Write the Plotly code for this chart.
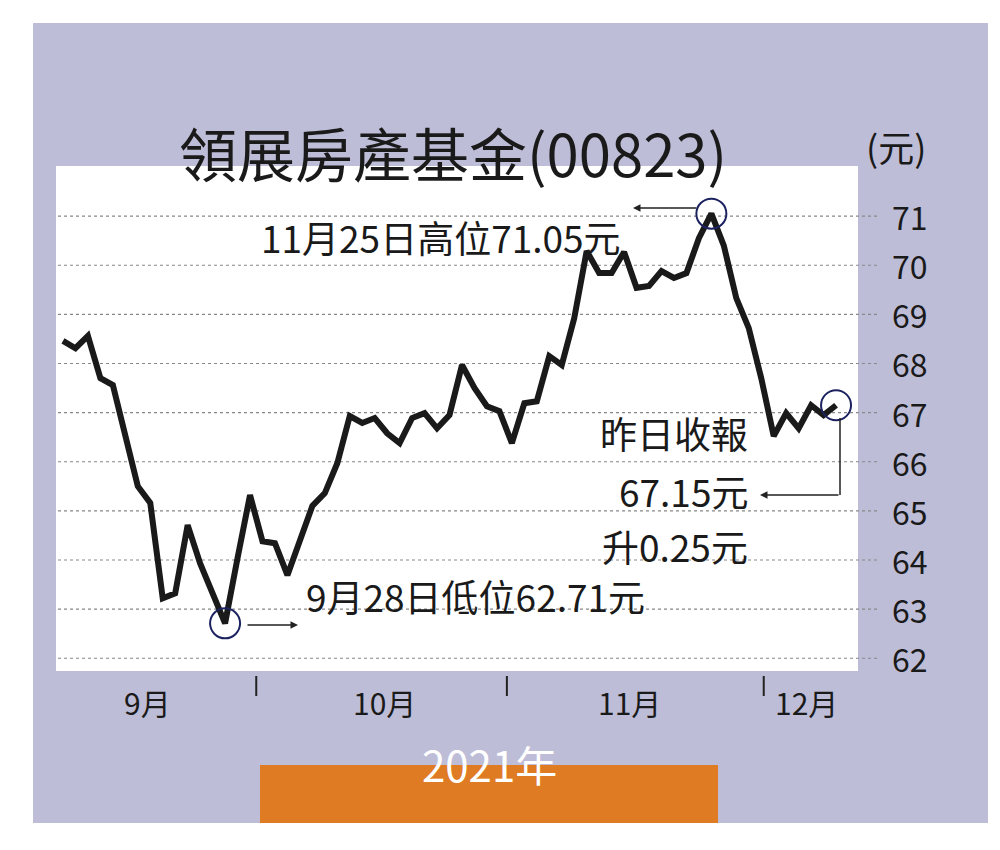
import plotly.graph_objects as go

prices = [68.46,68.31,68.56,67.70,67.56,66.48,65.50,65.16,63.22,63.32,64.71,63.93,63.32,62.71,
          64.04,65.32,64.38,64.34,63.69,64.44,65.10,65.36,65.97,66.93,66.79,66.89,66.58,66.38,66.89,66.99,
          66.68,66.95,67.97,67.50,67.13,67.03,66.38,67.19,67.23,68.15,67.97,68.92,70.29,69.84,69.84,70.27,
          69.54,69.58,69.88,69.74,69.84,70.55,71.05,
          70.40,69.33,68.72,67.70,66.52,66.99,66.68,67.15,66.95,67.15]
days = list(range(len(prices)))
month_labels = ["9月", "10月", "11月", "12月"]
month_label_pos = [6.8, 25.8, 45.4, 59.6]
month_bounds = [15.5, 35.6, 56.2]
y_ticks = list(range(62, 72))
low_i, high_i, last_i = 13, 52, len(prices) - 1

F = "Noto Sans CJK TC"
W, H = 1000, 850
def px(x): return x / W
def py(y): return 1 - y / H

XR = [-0.56, 63.76]
fig = go.Figure()
fig.add_trace(go.Scatter(x=days, y=prices, mode="lines",
                         line=dict(color="#1a1a1a", width=6), hoverinfo="skip"))
fig.add_trace(go.Scatter(x=[days[i] for i in (low_i, high_i, last_i)],
                         y=[prices[i] for i in (low_i, high_i, last_i)], mode="markers",
                         marker=dict(size=30, color="rgba(0,0,0,0)",
                                     line=dict(color="#1c2260", width=2)), hoverinfo="skip"))

shapes = [dict(type="rect", xref="paper", yref="paper", x0=px(25), x1=px(980), y0=py(815), y1=py(15),
               fillcolor="#bebdd7", line_width=0, layer="below"),
          dict(type="rect", xref="paper", yref="paper", x0=px(48), x1=px(850), y0=py(663), y1=py(158),
               fillcolor="white", line_width=0, layer="below"),
          dict(type="rect", xref="paper", yref="paper", x0=px(252), x1=px(710), y0=py(815), y1=py(757),
               fillcolor="#df7b22", line_width=0)]
for v in y_ticks:
    shapes.append(dict(type="line", xref="paper", yref="y", x0=px(50), x1=px(870), y0=v, y1=v,
                       line=dict(color="#888", width=1.2, dash="dot"), layer="below"))
for b in month_bounds:
    shapes.append(dict(type="line", xref="x", yref="paper", x0=b, x1=b, y0=py(688), y1=py(668),
                       line=dict(color="#222", width=2)))
shapes.append(dict(type="line", xref="paper", yref="paper", x0=px(832), x1=px(832), y0=py(410), y1=py(487),
                   line=dict(color="#222", width=1.5)))

ann = [dict(text="領展房產基金(00823)", xref="paper", yref="paper", x=px(445), y=py(100),
            showarrow=False, font=dict(family=F, size=58, color="#1a1a1a")),
       dict(text="(元)", xref="paper", yref="paper", x=px(920), y=py(110),
            showarrow=False, font=dict(family=F, size=36, color="#1a1a1a")),
       dict(text="2021年", xref="paper", yref="paper", x=px(481), y=py(788),
            showarrow=False, font=dict(family=F, size=42, color="white")),
       dict(text="11月25日高位71.05元", xref="paper", yref="paper", x=px(615), y=py(200), xanchor="right",
            showarrow=False, font=dict(family=F, size=37, color="#1a1a1a")),
       dict(text="9月28日低位62.71元", xref="paper", yref="paper", x=px(296), y=py(617), xanchor="left",
            showarrow=False, font=dict(family=F, size=37, color="#1a1a1a")),
       dict(text="昨日收報", xref="paper", yref="paper", x=px(742), y=py(425), xanchor="right",
            showarrow=False, font=dict(family=F, size=37, color="#1a1a1a")),
       dict(text="67.15元", xref="paper", yref="paper", x=px(742), y=py(483), xanchor="right",
            showarrow=False, font=dict(family=F, size=37, color="#1a1a1a")),
       dict(text="升0.25元", xref="paper", yref="paper", x=px(742), y=py(538), xanchor="right",
            showarrow=False, font=dict(family=F, size=37, color="#1a1a1a")),
       ]
for (x0, x1, y) in [(690, 625, 200), (238, 290, 617), (832, 752, 487)]:
    ann.append(dict(text="", xref="paper", yref="paper", axref="pixel", ayref="pixel",
                    x=px(x1), y=py(y), ax=x0 - x1, ay=0, showarrow=True,
                    arrowhead=2, arrowsize=1, arrowwidth=1.5, arrowcolor="#222"))
for v in y_ticks:
    ann.append(dict(text=str(v), xref="paper", yref="y", x=px(922), y=v, showarrow=False,
                    font=dict(family=F, size=32, color="#1a1a1a")))
for lab, p in zip(month_labels, month_label_pos):
    ann.append(dict(text=lab, xref="x", yref="paper", x=p, y=py(718), showarrow=False,
                    font=dict(family=F, size=30, color="#1a1a1a")))

fig.update_layout(width=W, height=H, margin=dict(l=0, r=0, t=0, b=0),
                  paper_bgcolor="white", plot_bgcolor="rgba(0,0,0,0)", showlegend=False,
                  xaxis=dict(domain=[px(48), px(850)], range=XR, visible=False),
                  yaxis=dict(domain=[py(663), py(158)], range=[61.74, 72.02], visible=False),
                  shapes=shapes, annotations=ann)
fig.write_html("out.html")
